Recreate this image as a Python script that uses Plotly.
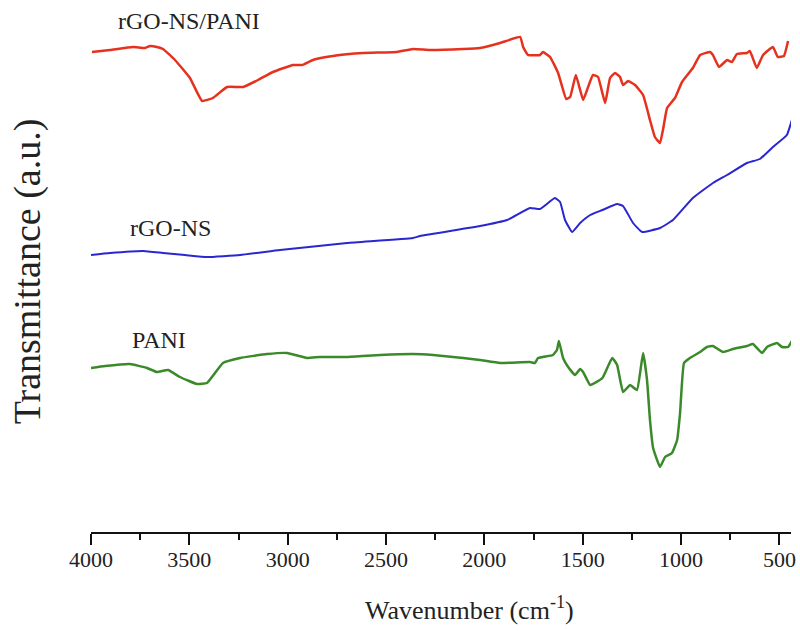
import plotly.graph_objects as go

# ---- data (wavenumber in cm^-1, transmittance in arbitrary units) ----
red_wn = [3995, 3903, 3787, 3725, 3700, 3665, 3634, 3573, 3497, 3435, 3380, 3308, 3227, 3151,
          3075, 2973, 2927, 2872, 2770, 2617, 2445, 2363, 2277, 2108, 2022, 1920, 1818, 1803,
          1778, 1717, 1702, 1666, 1625, 1584, 1564, 1535, 1498, 1478, 1448, 1422, 1386, 1361,
          1336, 1310, 1295, 1269, 1234, 1193, 1158, 1133, 1107, 1092, 1071, 1031, 995, 940,
          903, 853, 838, 807, 766, 741, 716, 665, 650, 615, 583, 533, 508, 477, 456]
red_t = [48.1, 48.3, 48.6, 48.5, 48.7, 48.6, 48.4, 47.3, 45.5, 43.2, 43.5, 44.6, 44.6, 45.3,
         46.1, 46.8, 46.8, 47.3, 47.7, 48.0, 48.1, 48.4, 48.3, 48.4, 48.5, 49.0, 49.6, 48.6,
         47.8, 47.8, 48.1, 47.6, 46.0, 43.4, 43.6, 45.8, 43.3, 44.3, 45.8, 45.6, 43.0, 45.5,
         46.0, 45.6, 44.8, 45.2, 44.8, 43.8, 41.3, 39.6, 39.0, 40.3, 42.5, 43.5, 45.1, 46.5,
         47.8, 48.1, 47.8, 46.6, 47.3, 47.1, 47.9, 48.0, 48.2, 46.5, 47.8, 48.6, 47.6, 47.7, 49.2]

blue_wn = [4000, 3903, 3735, 3634, 3522, 3410, 3242, 3039, 2698, 2363, 2327, 2022, 1885, 1768,
           1717, 1641, 1615, 1590, 1554, 1513, 1462, 1400, 1325, 1295, 1244, 1198, 1107, 1041,
           940, 838, 766, 665, 599, 533, 462, 421, 395]
blue_t = [27.8, 28.0, 28.2, 28.0, 27.8, 27.6, 27.8, 28.3, 29.0, 29.5, 29.7, 30.7, 31.3, 32.5,
          32.4, 33.5, 33.1, 31.3, 30.1, 31.0, 31.8, 32.3, 32.9, 32.7, 31.0, 30.1, 30.5, 31.3,
          33.5, 35.0, 35.8, 37.0, 37.4, 38.6, 39.8, 42.3, 43.8]

green_wn = [4000, 3928, 3802, 3715, 3665, 3608, 3548, 3461, 3410, 3329, 3242, 3105, 3003, 2902,
            2835, 2698, 2530, 2363, 2261, 2108, 2022, 1920, 1768, 1743, 1727, 1651, 1631, 1621,
            1600, 1574, 1539, 1513, 1498, 1462, 1400, 1350, 1325, 1295, 1259, 1224, 1193, 1173,
            1158, 1142, 1107, 1081, 1046, 1020, 1005, 985, 955, 903, 868, 838, 787, 736, 665,
            635, 588, 563, 512, 487, 456, 431]
green_t = [16.5, 16.7, 16.9, 16.5, 16.1, 16.3, 15.6, 14.9, 15.0, 17.0, 17.5, 17.9, 18.0, 17.5,
           17.6, 17.6, 17.8, 17.9, 17.8, 17.5, 17.3, 17.0, 17.1, 17.0, 17.5, 17.8, 18.3, 19.2,
           17.5, 16.6, 15.8, 16.4, 16.1, 14.8, 15.5, 17.5, 16.8, 14.1, 14.8, 14.3, 18.0, 15.3,
           11.3, 8.5, 6.6, 7.6, 8.0, 9.3, 12.0, 17.0, 17.5, 18.1, 18.6, 18.7, 18.1, 18.4, 18.7,
           18.9, 18.0, 18.6, 19.0, 18.6, 18.6, 19.4]

series_names = ["rGO-NS/PANI", "rGO-NS", "PANI"]
label_pos_wn = [3873, 3812, 3802]
label_pos_t = [51.2, 30.5, 19.3]
x_ticks = [4000, 3500, 3000, 2500, 2000, 1500, 1000, 500]

FONT = "Liberation Serif, Times New Roman, serif"

fig = go.Figure()
fig.add_trace(go.Scatter(x=red_wn, y=red_t, mode="lines", name=series_names[0],
                         line=dict(color="#e5321f", width=2.5, shape="spline", smoothing=0.35)))
fig.add_trace(go.Scatter(x=blue_wn, y=blue_t, mode="lines", name=series_names[1],
                         line=dict(color="#2a26d0", width=2.0, shape="spline", smoothing=0.35)))
fig.add_trace(go.Scatter(x=green_wn, y=green_t, mode="lines", name=series_names[2],
                         line=dict(color="#3b8a2a", width=2.5, shape="spline", smoothing=0.35)))

for name, xw, yt in zip(series_names, label_pos_wn, label_pos_t):
    fig.add_annotation(x=xw, y=yt, text=name, showarrow=False, xanchor="left", yanchor="middle",
                       font=dict(family=FONT, size=24, color="#222"))

fig.add_annotation(xref="paper", yref="paper", x=-0.0914, y=0.49, text="Transmittance (a.u.)",
                   textangle=-90, showarrow=False, xanchor="center", yanchor="middle",
                   font=dict(family=FONT, size=38, color="#222"))
fig.add_annotation(xref="paper", yref="paper", x=0.54, y=-0.143,
                   text="Wavenumber (cm<sup>-1</sup>)", showarrow=False,
                   xanchor="center", yanchor="middle",
                   font=dict(family=FONT, size=26, color="#222"))

fig.update_layout(
    width=800, height=631,
    margin=dict(l=91, r=9, t=0, b=99),
    paper_bgcolor="white", plot_bgcolor="white",
    showlegend=False,
    xaxis=dict(range=[4000, 441], tickvals=x_ticks, ticks="outside", ticklen=11, tickwidth=2,
               tickcolor="#111", showline=True, linecolor="#111", linewidth=2, showgrid=False,
               zeroline=False, automargin=False, ticklabelstandoff=-4,
               tickfont=dict(family=FONT, size=22, color="#222"),
               minor=dict(dtick=250, tick0=0, ticks="outside", ticklen=6, tickwidth=2,
                          tickcolor="#111", showgrid=False)),
    yaxis=dict(range=[0.1, 53.3], visible=False),
)

fig.write_html("out.html", config={"displayModeBar": False},
               post_script="document.body.style.margin='0';document.body.style.overflow='hidden';")
